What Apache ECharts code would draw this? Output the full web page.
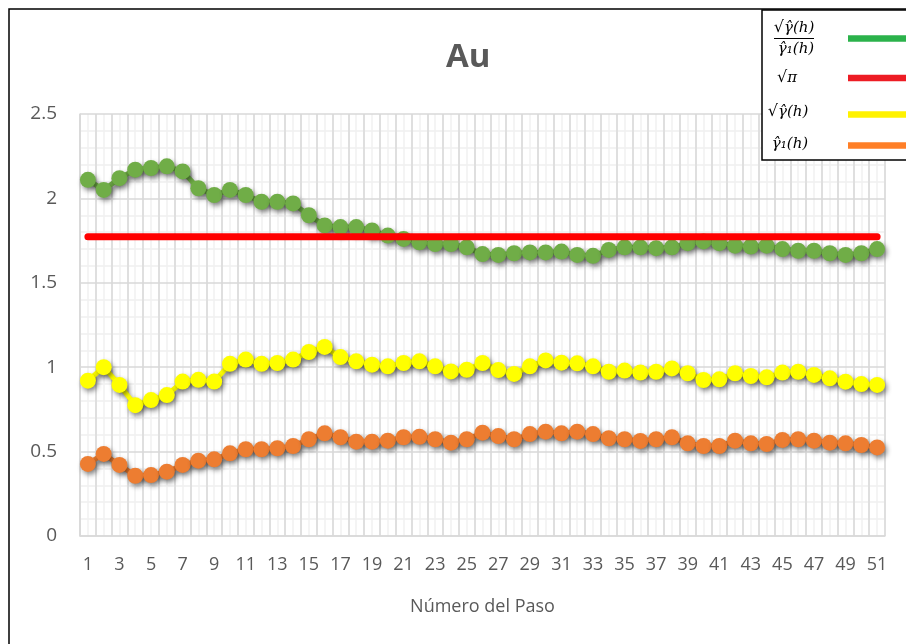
<!DOCTYPE html>
<html>
<head>
<meta charset="utf-8">
<script src="https://cdn.jsdelivr.net/npm/echarts@6/dist/echarts.min.js"></script>
<style>
    html, body { margin: 0; padding: 0; background: #fff; }
    #chart { width: 906px; height: 644px; }
</style>
</head>
<body>
<div id="chart"></div>
<script>
// número del paso 1..51
const categories = ['1','2','3','4','5','6','7','8','9','10','11','12','13','14','15','16','17','18','19','20',
    '21','22','23','24','25','26','27','28','29','30','31','32','33','34','35','36','37','38','39','40',
    '41','42','43','44','45','46','47','48','49','50','51'];

// sqrt(gamma(h)) / gamma1(h)
const ratioValues = [2.11, 2.05, 2.12, 2.17, 2.18, 2.19, 2.16, 2.06, 2.02, 2.05,
    2.02, 1.98, 1.98, 1.97, 1.90, 1.84, 1.83, 1.83, 1.81, 1.78,
    1.76, 1.74, 1.73, 1.73, 1.71, 1.67, 1.665, 1.675, 1.68, 1.68,
    1.685, 1.665, 1.66, 1.695, 1.71, 1.71, 1.705, 1.71, 1.735, 1.745,
    1.735, 1.72, 1.715, 1.72, 1.70, 1.69, 1.69, 1.675, 1.665, 1.675, 1.70];

// sqrt(pi), constante
const sqrtPiValue = 1.7725;

// sqrt(gamma(h))
const sqrtGammaValues = [0.92, 1.00, 0.895, 0.775, 0.805, 0.835, 0.915, 0.925, 0.915, 1.02,
    1.045, 1.02, 1.025, 1.045, 1.09, 1.12, 1.06, 1.035, 1.015, 1.005,
    1.025, 1.035, 1.005, 0.975, 0.985, 1.025, 0.983, 0.96, 1.005, 1.04,
    1.027, 1.023, 1.005, 0.973, 0.98, 0.968, 0.973, 0.993, 0.964, 0.924,
    0.928, 0.964, 0.948, 0.94, 0.968, 0.973, 0.954, 0.934, 0.914, 0.90, 0.895];

// gamma1(h)
const gamma1Values = [0.427, 0.486, 0.421, 0.357, 0.361, 0.381, 0.421, 0.446, 0.454, 0.49,
    0.514, 0.514, 0.52, 0.533, 0.573, 0.608, 0.585, 0.559, 0.559, 0.565,
    0.585, 0.588, 0.573, 0.553, 0.573, 0.612, 0.592, 0.573, 0.604, 0.618,
    0.608, 0.618, 0.604, 0.579, 0.573, 0.563, 0.573, 0.585, 0.549, 0.533,
    0.533, 0.565, 0.549, 0.545, 0.569, 0.573, 0.565, 0.553, 0.549, 0.539, 0.525];

const yTicks = { min: 0, max: 2.5, interval: 0.5 };

const labelFont = '"Open Sans", "Noto Sans", sans-serif';
const mathFont = '"DejaVu Serif", serif';

// nombres de las series y colores de la leyenda
const seriesNames = ['ratio', 'sqrtPi', 'sqrtGamma', 'gamma1'];
const legendColors = ['#2bb24b', '#ed1c24', '#fff200', '#ff7f27'];
const legendCenters = [38.5, 78, 114.5, 145.5];

const chart = echarts.init(document.getElementById('chart'));

const markerShadow = {
    shadowColor: 'rgba(0,0,0,0.45)',
    shadowBlur: 5,
    shadowOffsetX: 2,
    shadowOffsetY: 3,
};

function pointSeries(name, data, color) {
    return {
        name: name,
        type: 'line',
        data: data,
        symbol: 'circle',
        symbolSize: 16,
        showSymbol: true,
        showAllSymbol: true,
        itemStyle: Object.assign({ color: color }, markerShadow),
        lineStyle: Object.assign({ color: color, width: 5 }, markerShadow),
        xAxisIndex: 0,
        z: 3,
    };
}

const mathText = (x, y, rich) => ({
    type: 'text',
    x: x,
    y: y,
    z: 10,
    style: {
        text: rich,
        font: 'italic 15px ' + mathFont,
        fill: '#000',
        align: 'center',
        verticalAlign: 'middle',
        rich: {
            r: { fontFamily: mathFont, fontStyle: 'normal', fontSize: 16, fill: '#000' },
            i: { fontFamily: mathFont, fontStyle: 'italic', fontSize: 15, fill: '#000' },
        },
    },
});

const option = {
    animation: false,
    backgroundColor: '#fff',
    title: {
        text: 'Au',
        left: 441,
        top: 36,
        textStyle: {
            fontFamily: '"Open Sans", sans-serif',
            fontWeight: 'bold',
            fontSize: 33,
            color: '#595959',
        },
    },
    // una leyenda por serie para fijar la posicion de cada muestra
    legend: seriesNames.map((name, i) => ({
        data: [{ name: name, itemStyle: { color: legendColors[i] } }],
        left: 848,
        top: legendCenters[i] - 3.25,
        icon: 'rect',
        itemWidth: 60,
        itemHeight: 6.5,
        itemGap: 0,
        padding: 0,
        selectedMode: false,
        formatter: () => '',
        textStyle: { fontSize: 1, lineHeight: 1 },
        z: 6,
    })),
    grid: {
        left: 80,
        right: 21,
        top: 114,
        bottom: 108,
        containLabel: false,
    },
    xAxis: [
        {
            type: 'category',
            data: categories,
            boundaryGap: true,
            z: 1,
            axisLine: { lineStyle: { color: '#d9d9d9', width: 1.5 } },
            axisTick: { show: false },
            axisLabel: {
                interval: 1,
                margin: 20,
                color: '#595959',
                fontFamily: labelFont,
                fontSize: 18,
            },
            splitLine: {
                show: true,
                interval: 0,
                lineStyle: { color: '#d9d9d9', width: 1.5 },
            },
            name: 'Número del Paso',
            nameLocation: 'middle',
            nameGap: 62,
            nameTextStyle: {
                color: '#595959',
                fontFamily: labelFont,
                fontSize: 18,
            },
        },
        {
            // eje auxiliar para las lineas finas en el centro de cada paso
            type: 'category',
            data: categories.flatMap(c => [c + 'a', c + 'b']),
            boundaryGap: true,
            position: 'bottom',
            z: 0,
            axisLine: { show: false },
            axisTick: { show: false },
            axisLabel: { show: false },
            splitLine: {
                show: true,
                interval: 0,
                lineStyle: { color: '#f0f0f0', width: 1.5 },
            },
        },
    ],
    yAxis: {
        type: 'value',
        min: yTicks.min,
        max: yTicks.max,
        interval: yTicks.interval,
        z: 1,
        axisLine: { show: true, lineStyle: { color: '#d9d9d9', width: 1.5 } },
        axisTick: { show: false },
        axisLabel: {
            margin: 23,
            color: '#595959',
            fontFamily: labelFont,
            fontSize: 19,
        },
        splitLine: { lineStyle: { color: '#d9d9d9', width: 1.5 } },
        minorTick: { show: false, splitNumber: 5 },
        minorSplitLine: { show: true, lineStyle: { color: '#f0f0f0', width: 1.5 } },
    },
    series: [
        pointSeries('ratio', ratioValues, '#70ad47'),
        {
            name: 'sqrtPi',
            type: 'line',
            data: categories.map(() => sqrtPiValue),
            symbol: 'none',
            lineStyle: { color: '#ff0000', width: 7, cap: 'round' },
            z: 4,
        },
        pointSeries('sqrtGamma', sqrtGammaValues, '#ffff00'),
        pointSeries('gamma1', gamma1Values, '#ed7d31'),
    ],
    graphic: [
        {
            type: 'rect',
            shape: { x: 9, y: 9, width: 920, height: 660 },
            style: { fill: 'none', stroke: '#000', lineWidth: 1.5 },
            z: 5,
        },
        {
            type: 'rect',
            shape: { x: 762, y: 10, width: 160, height: 150 },
            style: { fill: '#fff', stroke: '#000', lineWidth: 1.5 },
            z: 5,
        },
        mathText(794, 28, '{r|√}{i|γ̂(h)}'),
        {
            type: 'line',
            shape: { x1: 774, y1: 38.5, x2: 814, y2: 38.5 },
            style: { stroke: '#000', lineWidth: 1 },
            z: 10,
        },
        mathText(796, 49, '{i|γ̂₁(h)}'),
        mathText(787, 78, '{r|√}{i|π}'),
        mathText(788, 112, '{r|√}{i|γ̂(h)}'),
        mathText(790, 144, '{i|γ̂₁(h)}'),
    ],
};

chart.setOption(option);
</script>
</body>
</html>
